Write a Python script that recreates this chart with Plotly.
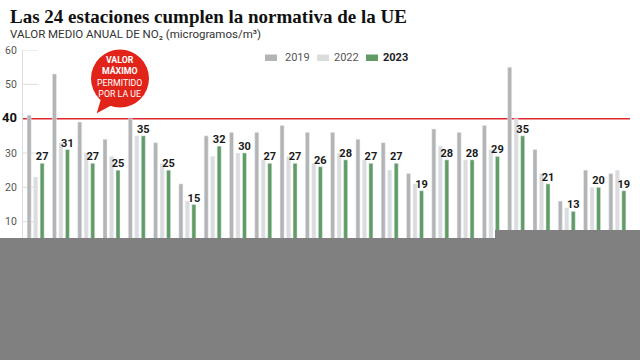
import plotly.graph_objects as go

# ---- data ----
stations = [str(i) for i in range(1, 25)]
v2019 = [41, 53, 39, 34, 40, 33, 21, 35, 36, 36, 38, 36, 36, 34, 33, 24, 37, 36, 38, 55, 31, 16, 25, 24]
v2022 = [23, 33, 30, 29, 35, 27, 16, 29, 30, 28, 29, 27, 30, 28, 25, 21, 32, 28, 31, 40, 24, 14, 20, 25]
v2023 = [27, 31, 27, 25, 35, 25, 15, 32, 30, 27, 27, 26, 28, 27, 27, 19, 28, 28, 29, 35, 21, 13, 20, 19]
years = ["2019", "2022", "2023"]
colors = ["#b4b4b4", "#dcdcdc", "#619c64"]
limit = 40
ytick_vals = [10, 20, 30, 40, 50, 60]

W_FIG, H_FIG = 640, 360
L, R, T, B = 23, 10, 50, 104
PW = W_FIG - L - R
PH = H_FIG - T - B


def px_x(px):
    return (px - L) / PW


def px_y(py):
    return (H_FIG - B - py) / PH


fig = go.Figure()
fig.add_trace(go.Bar(x=stations, y=v2019, name=years[0], marker_color=colors[0],
                     hoverinfo="y"))
fig.add_trace(go.Bar(x=stations, y=v2022, name=years[1], marker_color=colors[1],
                     hoverinfo="y"))
fig.add_trace(go.Bar(x=stations, y=v2023, name=years[2], marker_color=colors[2],
                     text=v2023, texttemplate="%{y}", textposition="outside",
                     constraintext="none", cliponaxis=False,
                     textfont=dict(family="Roboto", size=11, color="#1a1a1a", weight="bold"),
                     hoverinfo="y"))

ticktext = []
for v in ytick_vals:
    if v == limit:
        ticktext.append('<span style="font-size:13px;color:#111"><b>%d</b></span>' % v)
    else:
        ticktext.append(str(v))

shapes = []
# short tick stubs
for v in ytick_vals:
    if v == limit:
        continue
    shapes.append(dict(type="line", xref="paper", yref="y", x0=0, x1=px_x(38), y0=v, y1=v,
                       line=dict(color="#dddddd", width=1), layer="below"))
# limit line
shapes.append(dict(type="line", xref="paper", yref="y", x0=px_x(22), x1=1, y0=limit, y1=limit,
                   line=dict(color="#e0282f", width=1.5), layer="below"))
# speech bubble
cx, cy, r = 120, 78.5, 29
shapes.append(dict(type="circle", xref="paper", yref="paper",
                   x0=px_x(cx - r), x1=px_x(cx + r), y0=px_y(cy + r), y1=px_y(cy - r),
                   fillcolor="#e2231a", line=dict(width=0), layer="above"))
pts = [(101, 99), (96.7, 113.3), (113, 104.5)]
path = "M %f,%f L %f,%f L %f,%f Z" % tuple(c for p in pts for c in (px_x(p[0]), px_y(p[1])))
shapes.append(dict(type="path", xref="paper", yref="paper", path=path,
                   fillcolor="#e2231a", line=dict(width=0), layer="above"))
# legend swatches
leg_x = [(265, 277), (317, 329), (366, 378)]
for (a, b), c in zip(leg_x, colors):
    shapes.append(dict(type="rect", xref="paper", yref="paper", x0=px_x(a), x1=px_x(b),
                       y0=px_y(61), y1=px_y(54.5), fillcolor=c, line=dict(width=0)))
# bottom grey cover blocks
shapes.append(dict(type="rect", xref="paper", yref="paper", x0=px_x(0), x1=px_x(496),
                   y0=px_y(360), y1=px_y(238), fillcolor="#808080", line=dict(width=0),
                   layer="above"))
shapes.append(dict(type="rect", xref="paper", yref="paper", x0=px_x(495), x1=px_x(640),
                   y0=px_y(360), y1=px_y(230), fillcolor="#808080", line=dict(width=0),
                   layer="above"))

annotations = [
    dict(text="<b>Las 24 estaciones cumplen la normativa de la UE</b>", xref="paper", yref="paper",
         x=px_x(8), y=px_y(16.5), xanchor="left", yanchor="middle", showarrow=False,
         font=dict(family="Liberation Serif", size=19, color="#111")),
    dict(text="VALOR MEDIO ANUAL DE NO₂ (microgramos/m³)", xref="paper", yref="paper",
         x=px_x(8), y=px_y(34.5), xanchor="left", yanchor="middle", showarrow=False,
         font=dict(family="Roboto", size=11.5, color="#333")),
    dict(text="<b>VALOR</b><br><b>MÁXIMO</b><br>PERMITIDO<br>POR LA UE", xref="paper", yref="paper",
         x=px_x(cx), y=px_y(77), xanchor="center", yanchor="middle", showarrow=False,
         font=dict(family="Roboto", size=8.8, color="white")),
]
leg_tx = [283, 332, 381]
for xx, yr in zip(leg_tx, years):
    txt = "<b>%s</b>" % yr if yr == "2023" else yr
    annotations.append(dict(text=txt, xref="paper", yref="paper", x=px_x(xx), y=px_y(57.5),
                            xanchor="left", yanchor="middle", showarrow=False,
                            font=dict(family="Roboto", size=11,
                                      color="#222" if yr == "2023" else "#555")))

fig.update_layout(
    width=W_FIG, height=H_FIG,
    margin=dict(l=L, r=R, t=T, b=B, autoexpand=False),
    paper_bgcolor="white", plot_bgcolor="white",
    barmode="group", bargap=0.23, bargroupgap=0.38,
    showlegend=False,
    shapes=shapes, annotations=annotations,
    xaxis=dict(showticklabels=False, showgrid=False, zeroline=False, showline=False,
               ticks="", range=[-0.5, 23.5], fixedrange=True),
    yaxis=dict(range=[0, 60], tickvals=ytick_vals, ticktext=ticktext, showgrid=False,
               zeroline=False, showline=True, linecolor="#dddddd", linewidth=1, ticks="",
               ticklabelstandoff=3, automargin=False,
               tickfont=dict(family="Roboto", size=10.5, color="#555")),
)

fig.write_html("out.html", config={"displayModeBar": False},
               post_script="document.body.style.margin='0';")
